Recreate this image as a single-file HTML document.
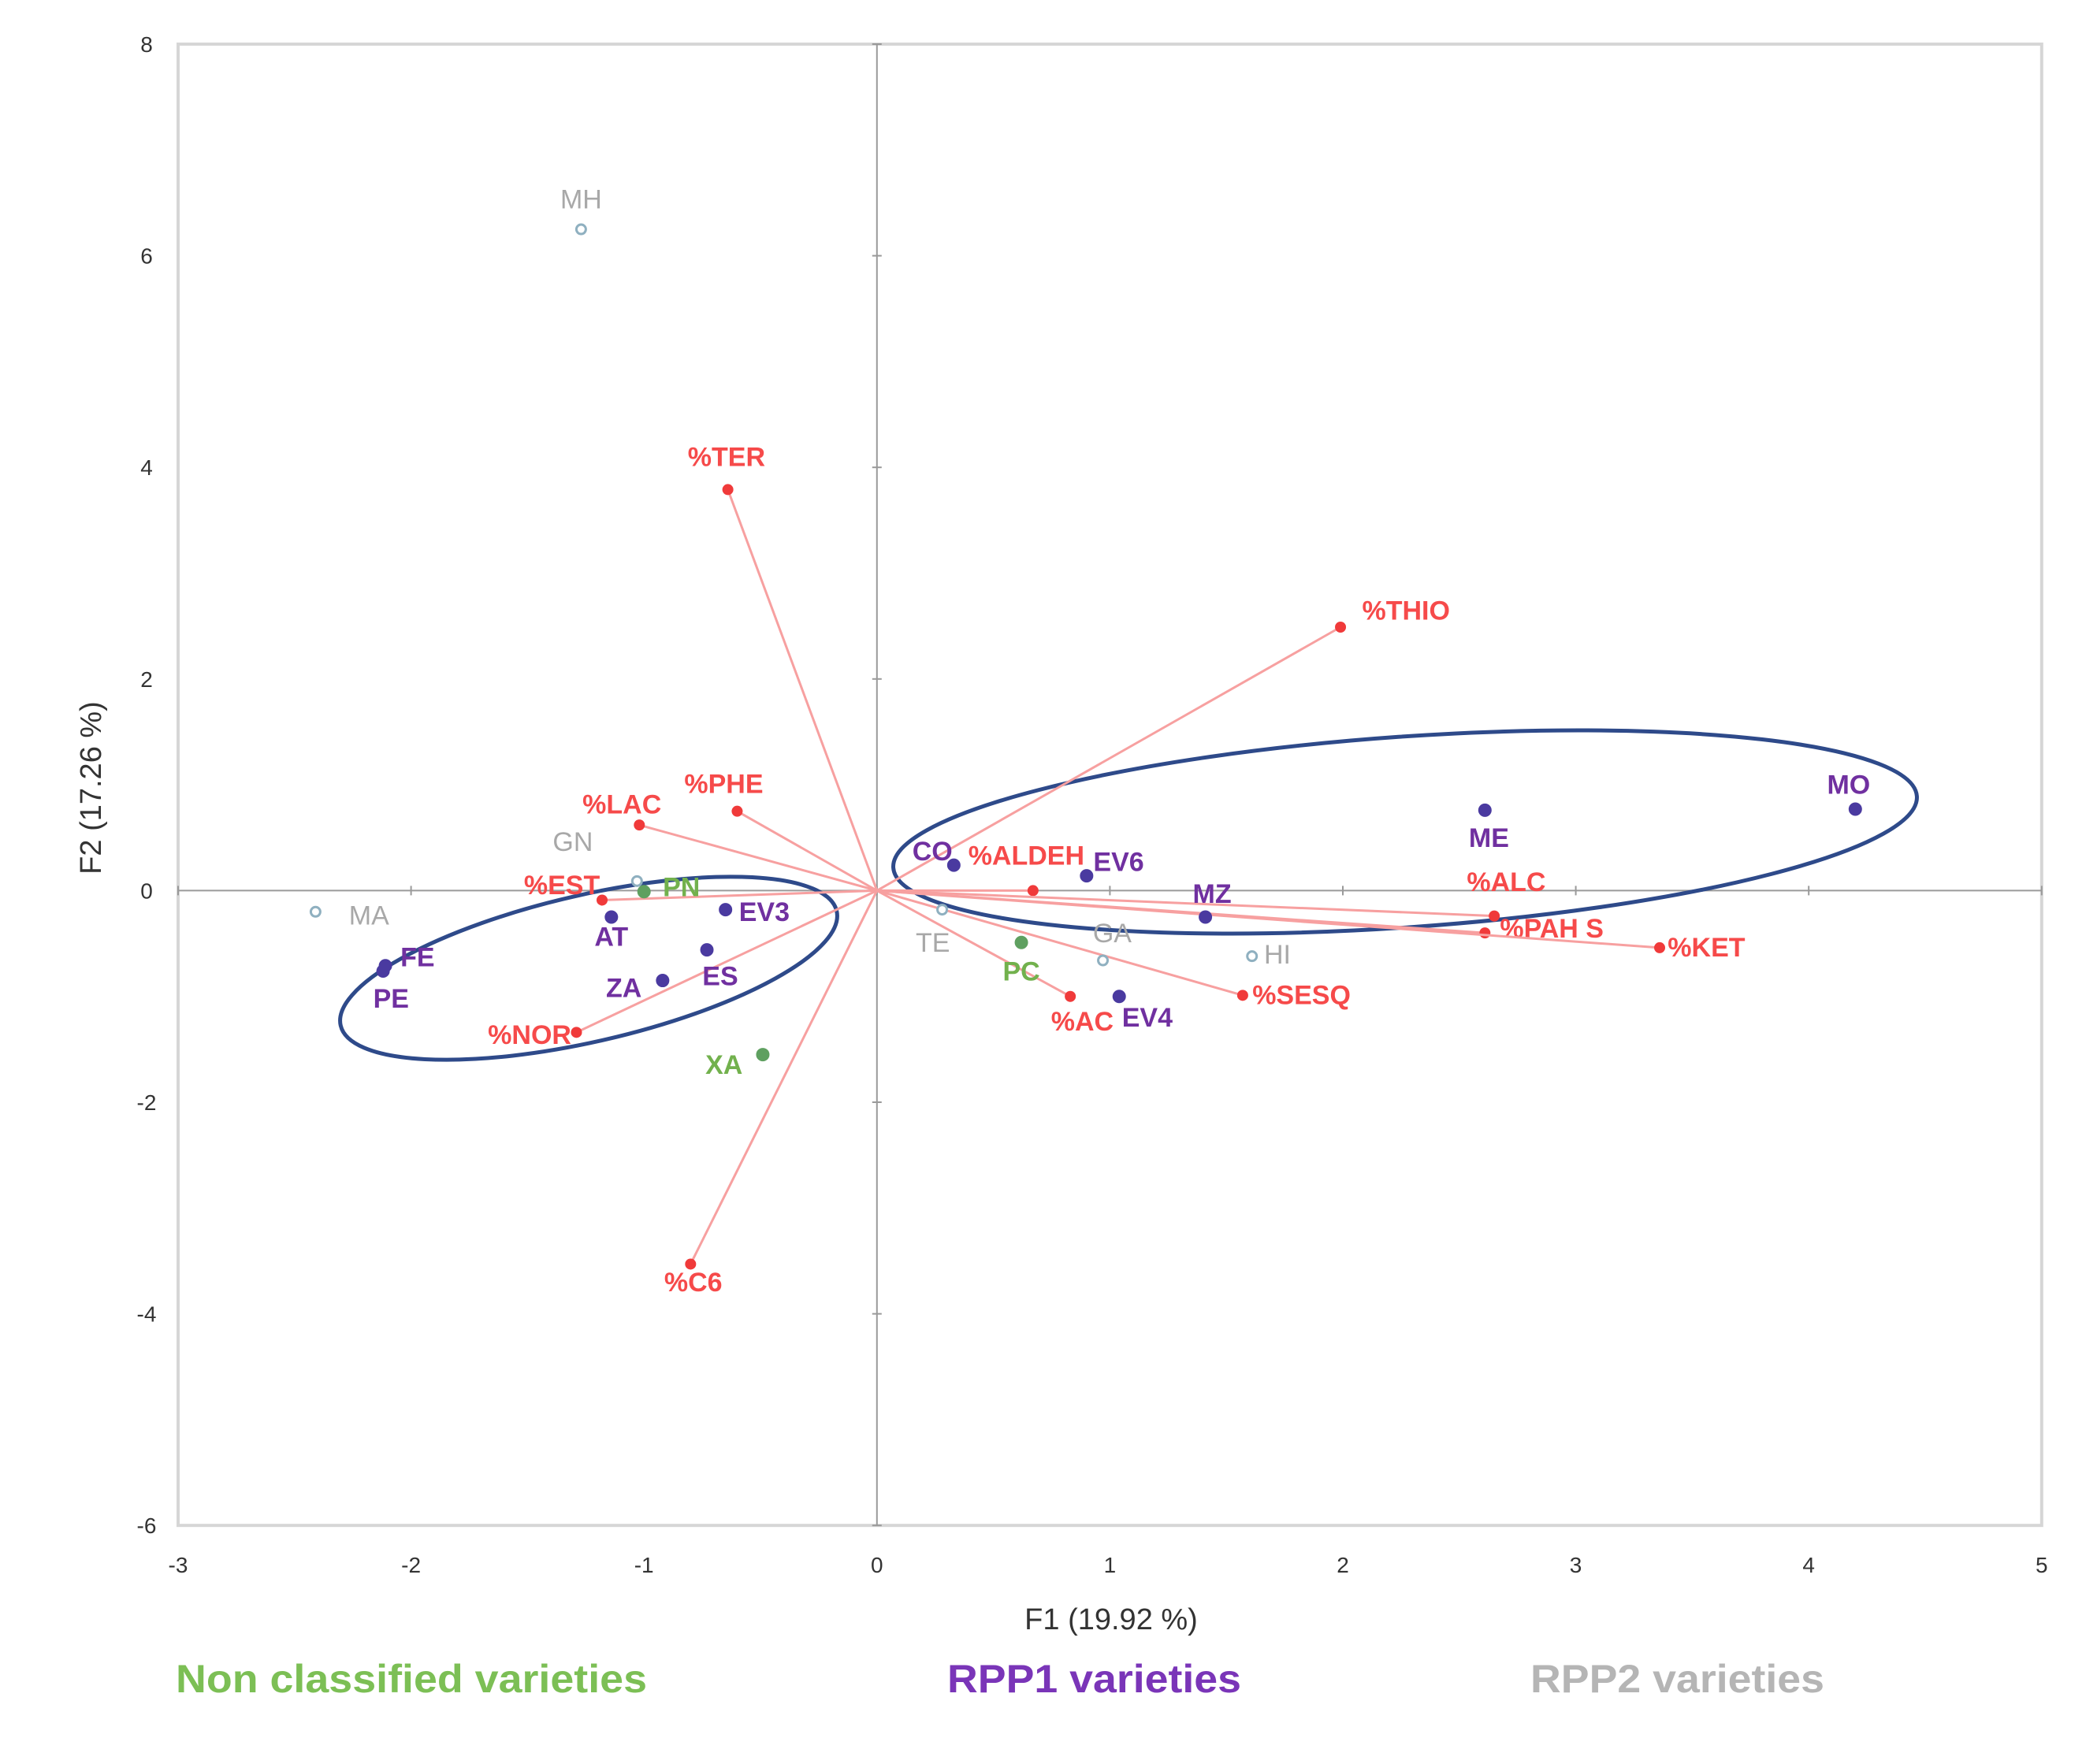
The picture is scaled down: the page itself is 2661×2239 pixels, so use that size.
<!DOCTYPE html>
<html><head><meta charset="utf-8"><style>
html,body{margin:0;padding:0;background:#fff;}
svg{display:block;font-family:"Liberation Sans",sans-serif;}
</style></head><body>
<svg id="chart" width="2661" height="2239" viewBox="0 0 2661 2239">
<g id="frame"></g><g id="ell"></g><g id="vec"></g><g id="pts"></g>
<text x="1410" y="2068" font-size="38" fill="#333" text-anchor="middle">F1 (19.92 %)</text>
<text transform="translate(128,1000) rotate(-90)" font-size="38" fill="#333" text-anchor="middle">F2 (17.26 %)</text>
<text x="223" y="2148" font-size="50" font-weight="bold" fill="#7cbf55" textLength="598" lengthAdjust="spacingAndGlyphs">Non classified varieties</text>
<text x="1202" y="2148" font-size="50" font-weight="bold" fill="#7a35b8" textLength="373" lengthAdjust="spacingAndGlyphs">RPP1 varieties</text>
<text x="1942" y="2148" font-size="50" font-weight="bold" fill="#b5b5b5" textLength="373" lengthAdjust="spacingAndGlyphs">RPP2 varieties</text>
</svg>
<script>
const xTicks=[-3,-2,-1,0,1,2,3,4,5];
const yTicks=[8,6,4,2,0,-2,-4,-6];
const varNames=["MH","MA","GN","PN","FE","PE","AT","ZA","ES","EV3","XA","CO","EV6","TE","PC","GA","EV4","MZ","HI","ME","MO"];
const varX=[-1.27,-2.41,-1.03,-1.0,-2.11,-2.12,-1.14,-0.92,-0.73,-0.65,-0.49,0.33,0.90,0.28,0.62,0.97,1.04,1.41,1.61,2.61,4.20];
const varY=[6.25,-0.20,0.09,-0.01,-0.71,-0.76,-0.25,-0.85,-0.56,-0.18,-1.55,0.24,0.14,-0.18,-0.49,-0.66,-1.00,-0.25,-0.62,0.76,0.77];
const varGroup=["rpp2","rpp2","rpp2","nc","rpp1","rpp1","rpp1","rpp1","rpp1","rpp1","nc","rpp1","rpp1","rpp2","nc","rpp2","rpp1","rpp1","rpp2","rpp1","rpp1"];
const vecNames=["%TER","%THIO","%PHE","%LAC","%EST","%NOR","%C6","%ALDEH","%AC","%SESQ","%ALC","%PAH S","%KET"];
const vecX=[-0.64,1.99,-0.60,-1.02,-1.18,-1.29,-0.80,0.67,0.83,1.57,2.65,2.61,3.36];
const vecY=[3.79,2.49,0.75,0.62,-0.09,-1.34,-3.53,0.0,-1.00,-0.99,-0.24,-0.40,-0.54];
const varOff=[[0,-22],[40,3],[-48,-29],[28,-3],[24,-6],[6,21],[0,15],[-29,6],[10,20],[29,2],[-29,8],[-16,-10],[24,-10],[-7,25],[0,22],[7,-20],[21,16],[5,-17],[19,-1],[3,21],[-5,-18]];
const vecOff=[[-1,-24],[49,-12],[-10,-20],[-13,-15],[-30,-11],[-35,2],[2,14],[-5,-26],[9,19],[44,0],[9,-25],[50,-3],[35,0]];
const S=1.697;
const X=v=>226+(v+3)*295.6, Y=v=>56+(8-v)*134.3;
const NS="http://www.w3.org/2000/svg";
function mk(p,t,a){const e=document.createElementNS(NS,t);for(const k in a)e.setAttribute(k,a[k]);p.appendChild(e);return e;}
const frame=document.getElementById('frame');
let r=mk(frame,'rect',{x:X(-3),y:Y(8),width:X(5)-X(-3),height:Y(-6)-Y(8),fill:'none',stroke:'#d6d6d6','stroke-width':4});


let ax=mk(frame,'line',{x1:X(0),x2:X(0),y1:Y(8),y2:Y(-6),stroke:'#9a9a9a','stroke-width':2});


let ay=mk(frame,'line',{x1:X(-3),x2:X(5),y1:Y(0),y2:Y(0),stroke:'#9a9a9a','stroke-width':2});


xTicks.forEach(t=>{
 mk(frame,'line',{x1:X(t),x2:X(t),y1:Y(0)-6,y2:Y(0)+6,stroke:'#9a9a9a','stroke-width':2});
 const e=mk(frame,'text',{x:X(t),y:Y(-6)+60,'font-size':28,fill:'#333','text-anchor':'middle'});e.textContent=t;
 
 
});
yTicks.forEach(t=>{
 mk(frame,'line',{x1:X(0)-6,x2:X(0)+6,y1:Y(t),y2:Y(t),stroke:'#9a9a9a','stroke-width':2});
 const e=mk(frame,'text',{x:X(-3)-40,y:Y(t)+10,'font-size':28,fill:'#333','text-anchor':'middle'});e.textContent=t;
 
 
});
const ell=document.getElementById('ell');
let e1=mk(ell,'ellipse',{cx:747,cy:1229,rx:323,ry:93,transform:'rotate(-13 747 1229)',fill:'none',stroke:'#2e4a8a','stroke-width':5});


let e2=mk(ell,'ellipse',{cx:1783,cy:1056,rx:651,ry:121,transform:'rotate(-4 1783 1056)',fill:'none',stroke:'#2e4a8a','stroke-width':5});


const vec=document.getElementById('vec');
vecNames.forEach((n,i)=>{
 const l=mk(vec,'line',{x1:X(0),y1:Y(0),x2:X(vecX[i]),y2:Y(vecY[i]),stroke:'#f7a0a0','stroke-width':3});
 
 
 const c=mk(vec,'circle',{cx:X(vecX[i]),cy:Y(vecY[i]),r:7,fill:'#f03a3a'});
 
 
 const t=mk(vec,'text',{x:X(vecX[i])+vecOff[i][0]*S,y:Y(vecY[i])+vecOff[i][1]*S,'font-size':34,'font-weight':'bold',fill:'#f64a4a','text-anchor':'middle','dominant-baseline':'central'});t.textContent=n;
 
 
});
const cols={nc:'#72b14d',rpp1:'#7030a0',rpp2:'#a8a8a8'};
const dot={nc:'#5fa060',rpp1:'#4a3aa0',rpp2:'#8fb0c0'};
const pts=document.getElementById('pts');
varNames.forEach((n,i)=>{
 const g=varGroup[i];
 const c=mk(pts,'circle',{cx:X(varX[i]),cy:Y(varY[i]),r:g==='rpp2'?6:7,fill:g==='rpp2'?'#fff':dot[g],stroke:dot[g],'stroke-width':3});
 
 
 const t=mk(pts,'text',{x:X(varX[i])+varOff[i][0]*S,y:Y(varY[i])+varOff[i][1]*S,'font-size':34,'font-weight':g==='rpp2'?'normal':'bold',fill:cols[g],'text-anchor':'middle','dominant-baseline':'central'});t.textContent=n;
 
 
});
</script>
</body></html>
